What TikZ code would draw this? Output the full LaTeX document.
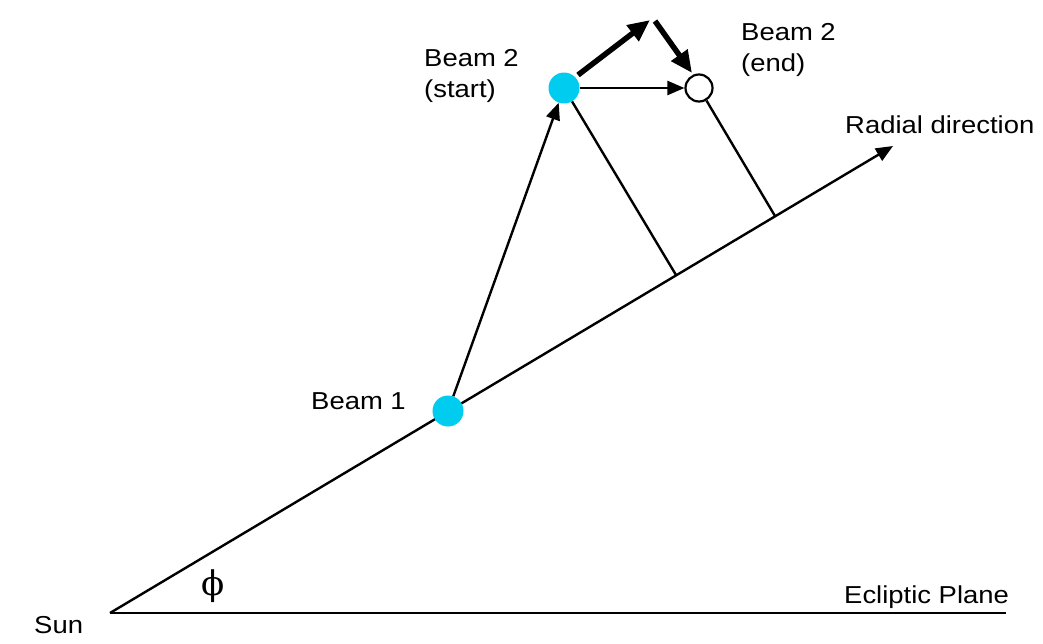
\documentclass[tikz,border=0pt]{standalone}
\usepackage{fontspec}
\setmainfont{Liberation Sans}[FakeStretch=1.12]
\newfontfamily\phifont{DejaVu Serif}
\usetikzlibrary{arrows.meta}
\definecolor{beamcyan}{RGB}{0,204,240}
\begin{document}
\begin{tikzpicture}[x=1pt,y=-1pt,
  baseline/.style={line width=2.4pt},
  thinarrow/.style={line width=2.4pt, -{Triangle[length=17pt,width=14pt]}},
  thickarrow/.style={line width=5.5pt, -{Triangle[length=22pt,width=19pt]}},
  beamdot/.style={circle, fill=beamcyan, minimum size=31pt, inner sep=0pt},
  beamend/.style={circle, draw, line width=2.2pt, fill=white, minimum size=27pt, inner sep=0pt},
  lbl/.style={font=\fontsize{24.5}{31}\selectfont, anchor=base west, inner sep=0pt, align=left}]
\useasboundingbox (0,0) rectangle (1043,643);
% geometry
\coordinate (sun) at (110,613);
\coordinate (eclend) at (1006,613);
\coordinate (rtip) at (893,146);
\coordinate (foot1) at (676,275);
\coordinate (foot2) at (775,216);
\coordinate (tA) at (578,75);
\coordinate (tB) at (650,20);
\coordinate (tC) at (655,21);
\coordinate (tD) at (692,73);
% lines
\draw[baseline] (sun) -- (eclend);
\draw[thinarrow] (sun) -- (rtip);
% beams
\node[beamdot] (b1) at (448,411) {};
\node[beamdot] (b2s) at (564,88) {};
\node[beamend] (b2e) at (699,88) {};
% connectors
\draw[thinarrow] (b1) -- (b2s);
\draw[thinarrow] (b2s) -- (b2e);
\draw[baseline] (b2s) -- (foot1);
\draw[baseline] (b2e) -- (foot2);
\draw[thickarrow] (tA) -- (tB);
\draw[thickarrow] (tC) -- (tD);
% labels
\node[lbl] (l2s) at (424,97) {Beam 2\\(start)};
\node[lbl] (l2e) at (741,71) {Beam 2\\(end)};
\node[lbl] (lrad) at (845,133) {Radial direction};
\node[lbl] (lb1) at (311,409) {Beam 1};
\node[lbl] (lsun) at (34,633) {Sun};
\node[lbl] (lecl) at (844,603) {Ecliptic Plane};
\node[font=\fontsize{34}{36}\phifont, inner sep=0pt] (phi) at (213,586) {ϕ};
\end{tikzpicture}
\end{document}
